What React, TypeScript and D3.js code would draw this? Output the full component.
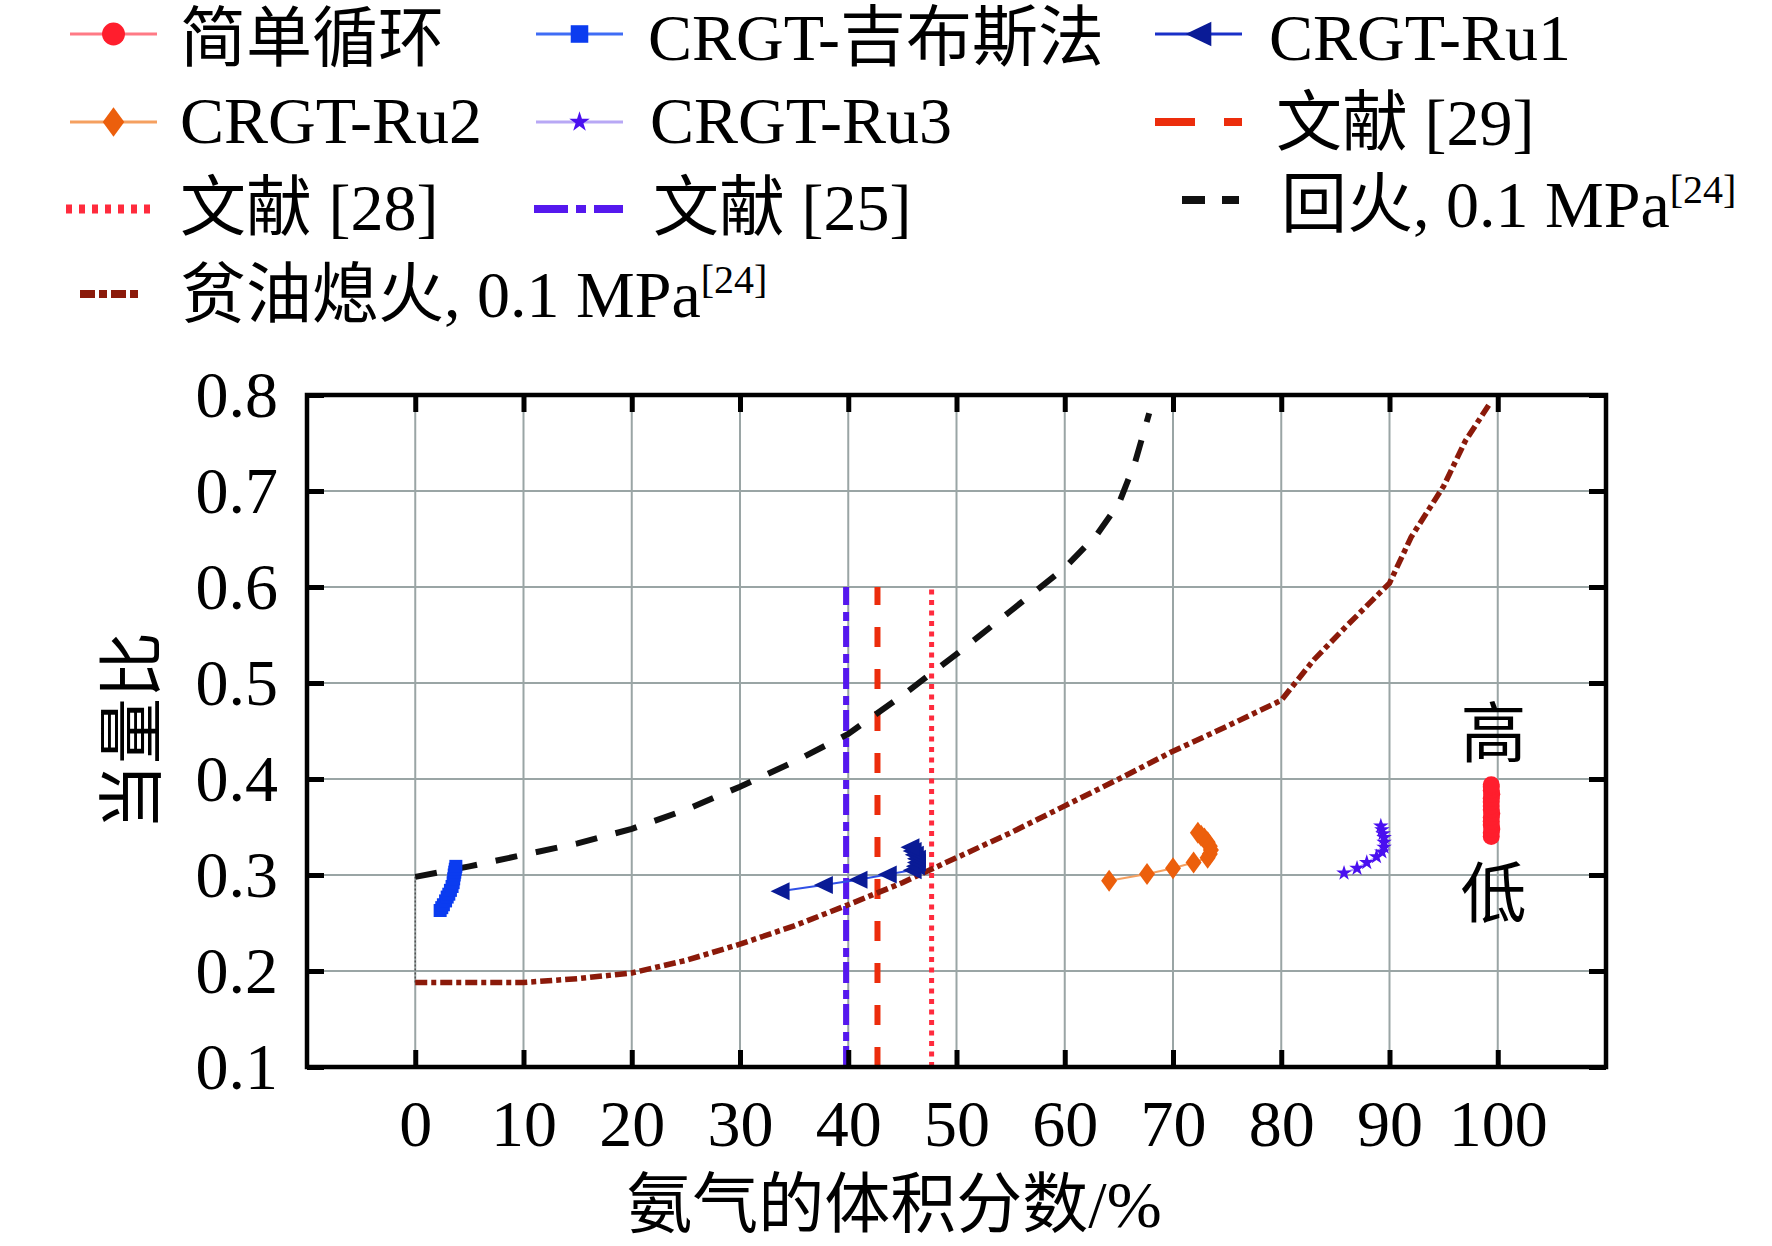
import React, { useRef, useEffect } from "react";
import * as d3 from "d3";

type Pt = [number, number];

// 简单循环
const simpleCycle: Pt[] = [
  [99.4, 0.34], [99.4, 0.344], [99.45, 0.348], [99.4, 0.352], [99.4, 0.356],
  [99.4, 0.36], [99.45, 0.364], [99.4, 0.368], [99.4, 0.372], [99.4, 0.376],
  [99.4, 0.38], [99.45, 0.384], [99.4, 0.388], [99.4, 0.392], [99.4, 0.394],
];
// CRGT-吉布斯法
const gibbs: Pt[] = [
  [2.3, 0.263], [2.45, 0.266], [2.6, 0.269], [2.8, 0.273], [2.95, 0.277],
  [3.1, 0.28], [3.25, 0.284], [3.4, 0.288], [3.5, 0.292], [3.55, 0.296],
  [3.6, 0.3], [3.65, 0.303], [3.7, 0.306], [3.75, 0.309],
];
// CRGT-Ru1
const ru1: Pt[] = [
  [33.7, 0.283], [37.7, 0.2895], [40.9, 0.295], [43.6, 0.3005],
  [45.9, 0.305], [46.2, 0.309], [46.3, 0.313], [46.3, 0.317],
  [46.1, 0.321], [45.9, 0.325], [45.7, 0.329],
];
// CRGT-Ru2
const ru2: Pt[] = [
  [64.1, 0.294], [67.6, 0.301], [70.0, 0.307], [71.9, 0.313],
  [73.2, 0.318], [73.4, 0.322], [73.5, 0.326], [73.4, 0.33],
  [73.2, 0.334], [72.9, 0.338], [72.6, 0.341], [72.3, 0.344],
];
// CRGT-Ru3
const ru3: Pt[] = [
  [85.8, 0.302], [87.0, 0.307], [87.9, 0.313], [88.8, 0.319],
  [89.3, 0.324], [89.5, 0.329], [89.5, 0.334], [89.5, 0.339],
  [89.4, 0.343], [89.3, 0.347], [89.2, 0.351],
];
// 回火, 0.1 MPa
const flashback: Pt[] = [
  [0, 0.298], [5, 0.309], [10, 0.321], [15, 0.333], [20, 0.348],
  [25, 0.368], [30, 0.392], [35, 0.418], [40, 0.447], [45, 0.487],
  [50, 0.53], [55, 0.575], [60, 0.62], [63, 0.655], [65, 0.687],
  [66.5, 0.73], [67.8, 0.781],
];
// 贫油熄火, 0.1 MPa
const leanBlowout: Pt[] = [
  [0, 0.188], [5, 0.188], [10, 0.188], [15, 0.192], [20, 0.198],
  [25, 0.211], [30, 0.228], [35, 0.247], [40, 0.269], [45, 0.292],
  [50, 0.318], [55, 0.344], [60, 0.372], [65, 0.4], [70, 0.429],
  [75, 0.455], [80, 0.482], [83, 0.524], [86, 0.559], [90, 0.604],
  [92, 0.652], [95, 0.705], [97, 0.752], [99.2, 0.79],
];
// thin dotted link at x = 0
const zeroLink: Pt[] = [[0, 0.188], [0, 0.298]];

// 文献 vertical lines
const lit25X = 39.8;
const lit29X = 42.7;
const lit28X = 47.7;
const litYRange: [number, number] = [0.1, 0.6];

const xTicks = [0, 10, 20, 30, 40, 50, 60, 70, 80, 90, 100];
const yTicks = [0.1, 0.2, 0.3, 0.4, 0.5, 0.6, 0.7, 0.8];

const FONT = "'Liberation Serif','Times New Roman','Noto Sans CJK SC',serif";

type Kind = "circle" | "square" | "triLeft" | "diamond" | "star";

const markerPath = (kind: Kind, big: boolean) => {
  const k = big ? 1.35 : 1;
  if (kind === "circle") return d3.symbol(d3.symbolCircle, Math.PI * (8.5 * k) ** 2)()!;
  if (kind === "star") return d3.symbol(d3.symbolStar, big ? 130 : 75)()!;
  if (kind === "square") {
    const h = 6.5 * k;
    return `M${-h},${-h}H${h}V${h}H${-h}Z`;
  }
  if (kind === "triLeft") {
    const w = 9.5 * k, h = 9 * k;
    return `M${-w},0L${w},${-h}L${w},${h}Z`;
  }
  const w = 8 * k, h = 11 * k;
  return `M0,${-h}L${w},0L0,${h}L${-w},0Z`;
};

const markerSeries = [
  { data: simpleCycle, kind: "circle" as Kind, color: "#ff1e2d", line: "#ff7a85" },
  { data: gibbs, kind: "square" as Kind, color: "#0b3cf0", line: "#3f6cf5" },
  { data: ru1, kind: "triLeft" as Kind, color: "#0a1b96", line: "#3050e6" },
  { data: ru2, kind: "diamond" as Kind, color: "#ec5f0c", line: "#f5a060" },
  { data: ru3, kind: "star" as Kind, color: "#4a0ff0", line: "#b8a8f5" },
];

const App: React.FC = () => {
  const svgRef = useRef<SVGSVGElement | null>(null);
  const width = 1772;
  const height = 1246;

  useEffect(() => {
    const svg = d3.select(svgRef.current);
    svg.selectAll("*").remove();

    const x = d3.scaleLinear().domain([-10, 110]).range([307, 1606]);
    const y = d3.scaleLinear().domain([0.1, 0.8]).range([1067, 395]);
    const [x0, x1] = x.range();
    const [y0, y1] = y.range();

    svg.append("rect").attr("width", width).attr("height", height).attr("fill", "#fff");

    // grid
    const grid = svg.append("g").attr("stroke", "#9aa5a5").attr("stroke-width", 2);
    xTicks.forEach((t) =>
      grid.append("line").attr("x1", x(t)).attr("x2", x(t)).attr("y1", y1).attr("y2", y0)
    );
    yTicks.slice(1, -1).forEach((t) =>
      grid.append("line").attr("x1", x0).attr("x2", x1).attr("y1", y(t)).attr("y2", y(t))
    );

    const line = d3
      .line<Pt>()
      .x((d) => x(d[0]))
      .y((d) => y(d[1]));

    // reference vertical lines
    const vline = (xv: number, color: string, dash: string, w: number) =>
      svg
        .append("line")
        .attr("x1", x(xv))
        .attr("x2", x(xv))
        .attr("y1", y(litYRange[0]))
        .attr("y2", y(litYRange[1]))
        .attr("stroke", color)
        .attr("stroke-width", w)
        .attr("stroke-dasharray", dash);
    vline(lit25X, "#5518ee", "21 5 9 7", 6);
    vline(lit29X, "#ec2d0c", "20 22", 6);
    vline(lit28X, "#ff2b3d", "5 5.5", 5);

    // boundary curves
    svg
      .append("path")
      .datum(zeroLink)
      .attr("d", line)
      .attr("fill", "none")
      .attr("stroke", "#555")
      .attr("stroke-width", 1.5)
      .attr("stroke-dasharray", "2 2");
    svg
      .append("path")
      .datum(leanBlowout)
      .attr("d", line)
      .attr("fill", "none")
      .attr("stroke", "#8b1a0a")
      .attr("stroke-width", 5.5)
      .attr("stroke-dasharray", "12 4 5 4");
    svg
      .append("path")
      .datum(flashback)
      .attr("d", line)
      .attr("fill", "none")
      .attr("stroke", "#111")
      .attr("stroke-width", 6)
      .attr("stroke-dasharray", "22 19");

    // marker series
    markerSeries.forEach((s) => {
      svg
        .append("path")
        .datum(s.data)
        .attr("d", line)
        .attr("fill", "none")
        .attr("stroke", s.line)
        .attr("stroke-width", 2);
      svg
        .append("g")
        .selectAll("path")
        .data(s.data)
        .join("path")
        .attr("transform", (d) => `translate(${x(d[0])},${y(d[1])})`)
        .attr("d", markerPath(s.kind, false))
        .attr("fill", s.color);
    });

    // frame and axes
    const tick = 17;
    const axisStyle = (g: d3.Selection<SVGGElement, unknown, null, undefined>) => {
      g.select(".domain").remove();
      g.selectAll(".tick line").attr("stroke", "#000").attr("stroke-width", 5);
      g.selectAll(".tick text")
        .attr("fill", "#000")
        .style("font-family", FONT)
        .style("font-size", "66px");
    };
    svg
      .append("g")
      .attr("transform", `translate(0,${y0})`)
      .call(d3.axisBottom(x).tickValues(xTicks).tickSize(-tick).tickPadding(32).tickFormat(d3.format("d")))
      .call(axisStyle);
    svg
      .append("g")
      .attr("transform", `translate(0,${y1})`)
      .call(d3.axisTop(x).tickValues(xTicks).tickSize(-tick).tickFormat(() => ""))
      .call(axisStyle);
    svg
      .append("g")
      .attr("transform", `translate(${x0},0)`)
      .call(d3.axisLeft(y).tickValues(yTicks).tickSize(-tick).tickPadding(29).tickFormat(d3.format(".1f")))
      .call(axisStyle);
    svg
      .append("g")
      .attr("transform", `translate(${x1},0)`)
      .call(d3.axisRight(y).tickValues(yTicks).tickSize(-tick).tickFormat(() => ""))
      .call(axisStyle);
    svg
      .append("rect")
      .attr("x", x0)
      .attr("y", y1)
      .attr("width", x1 - x0)
      .attr("height", y0 - y1)
      .attr("fill", "none")
      .attr("stroke", "#000")
      .attr("stroke-width", 4.5);

    // axis titles
    svg
      .append("text")
      .attr("x", 894)
      .attr("y", 1227)
      .attr("text-anchor", "middle")
      .style("font-family", FONT)
      .style("font-size", "66px")
      .text("氨气的体积分数/%");
    svg
      .append("text")
      .attr("transform", `translate(155,${(y0 + y1) / 2}) rotate(-90)`)
      .attr("text-anchor", "middle")
      .style("font-family", FONT)
      .style("font-size", "66px")
      .text("当量比");

    // 高 / 低 annotations
    svg
      .append("text")
      .attr("x", x(99.6))
      .attr("y", y(0.449) + 25)
      .attr("text-anchor", "middle")
      .style("font-family", FONT)
      .style("font-size", "66px")
      .text("高");
    svg
      .append("text")
      .attr("x", x(99.6))
      .attr("y", y(0.282) + 25)
      .attr("text-anchor", "middle")
      .style("font-family", FONT)
      .style("font-size", "66px")
      .text("低");

    // legend
    type LegendItem = {
      label: string;
      sup?: string;
      lx: [number, number];
      ly: number;
      tx: number;
      ty: number;
      color: string;
      width: number;
      dash?: string;
      marker?: { kind: Kind; color: string };
    };
    const legend: LegendItem[] = [
      { label: "简单循环", lx: [70, 157], ly: 34, tx: 180, ty: 61, color: "#ff7a85", width: 3, marker: { kind: "circle", color: "#ff1e2d" } },
      { label: "CRGT-吉布斯法", lx: [536, 623], ly: 34, tx: 648, ty: 60, color: "#3f6cf5", width: 3, marker: { kind: "square", color: "#0b3cf0" } },
      { label: "CRGT-Ru1", lx: [1155, 1242], ly: 34, tx: 1269, ty: 60, color: "#1a30c8", width: 3, marker: { kind: "triLeft", color: "#0a1b96" } },
      { label: "CRGT-Ru2", lx: [70, 157], ly: 122, tx: 180, ty: 143, color: "#f5a060", width: 3, marker: { kind: "diamond", color: "#ec5f0c" } },
      { label: "CRGT-Ru3", lx: [536, 623], ly: 122, tx: 650, ty: 143, color: "#b8a8f5", width: 3, marker: { kind: "star", color: "#4a0ff0" } },
      { label: "文献 [29]", lx: [1155, 1242], ly: 122, tx: 1276, ty: 145, color: "#ec2d0c", width: 8, dash: "40 29" },
      { label: "文献 [28]", lx: [66, 156], ly: 209, tx: 180, ty: 230, color: "#ff2b3d", width: 9, dash: "6 7" },
      { label: "文献 [25]", lx: [534, 623], ly: 209, tx: 653, ty: 230, color: "#5518ee", width: 8, dash: "34 8 10 8" },
      { label: "回火, 0.1 MPa", sup: "[24]", lx: [1182, 1239], ly: 200, tx: 1281, ty: 227, color: "#111", width: 8, dash: "23 17" },
      { label: "贫油熄火, 0.1 MPa", sup: "[24]", lx: [80, 142], ly: 294, tx: 180, ty: 317, color: "#8b1a0a", width: 8, dash: "15 4 8 4" },
    ];
    const lg = svg.append("g");
    legend.forEach((it) => {
      lg.append("line")
        .attr("x1", it.lx[0])
        .attr("x2", it.lx[1])
        .attr("y1", it.ly)
        .attr("y2", it.ly)
        .attr("stroke", it.color)
        .attr("stroke-width", it.width)
        .attr("stroke-dasharray", it.dash ?? null);
      if (it.marker) {
        lg.append("path")
          .attr("transform", `translate(${(it.lx[0] + it.lx[1]) / 2},${it.ly})`)
          .attr("d", markerPath(it.marker.kind, true))
          .attr("fill", it.marker.color);
      }
      const t = lg
        .append("text")
        .attr("x", it.tx)
        .attr("y", it.ty)
        .style("font-family", FONT)
        .style("font-size", "66px")
        .text(it.label);
      if (it.sup) {
        t.append("tspan").attr("dy", -24).style("font-size", "40px").text(it.sup);
      }
    });
  }, []);

  return (
    <svg
      ref={svgRef}
      width={width}
      height={height}
      style={{ position: "absolute", left: 0, top: 0 }}
    ></svg>
  );
};

export default App;
